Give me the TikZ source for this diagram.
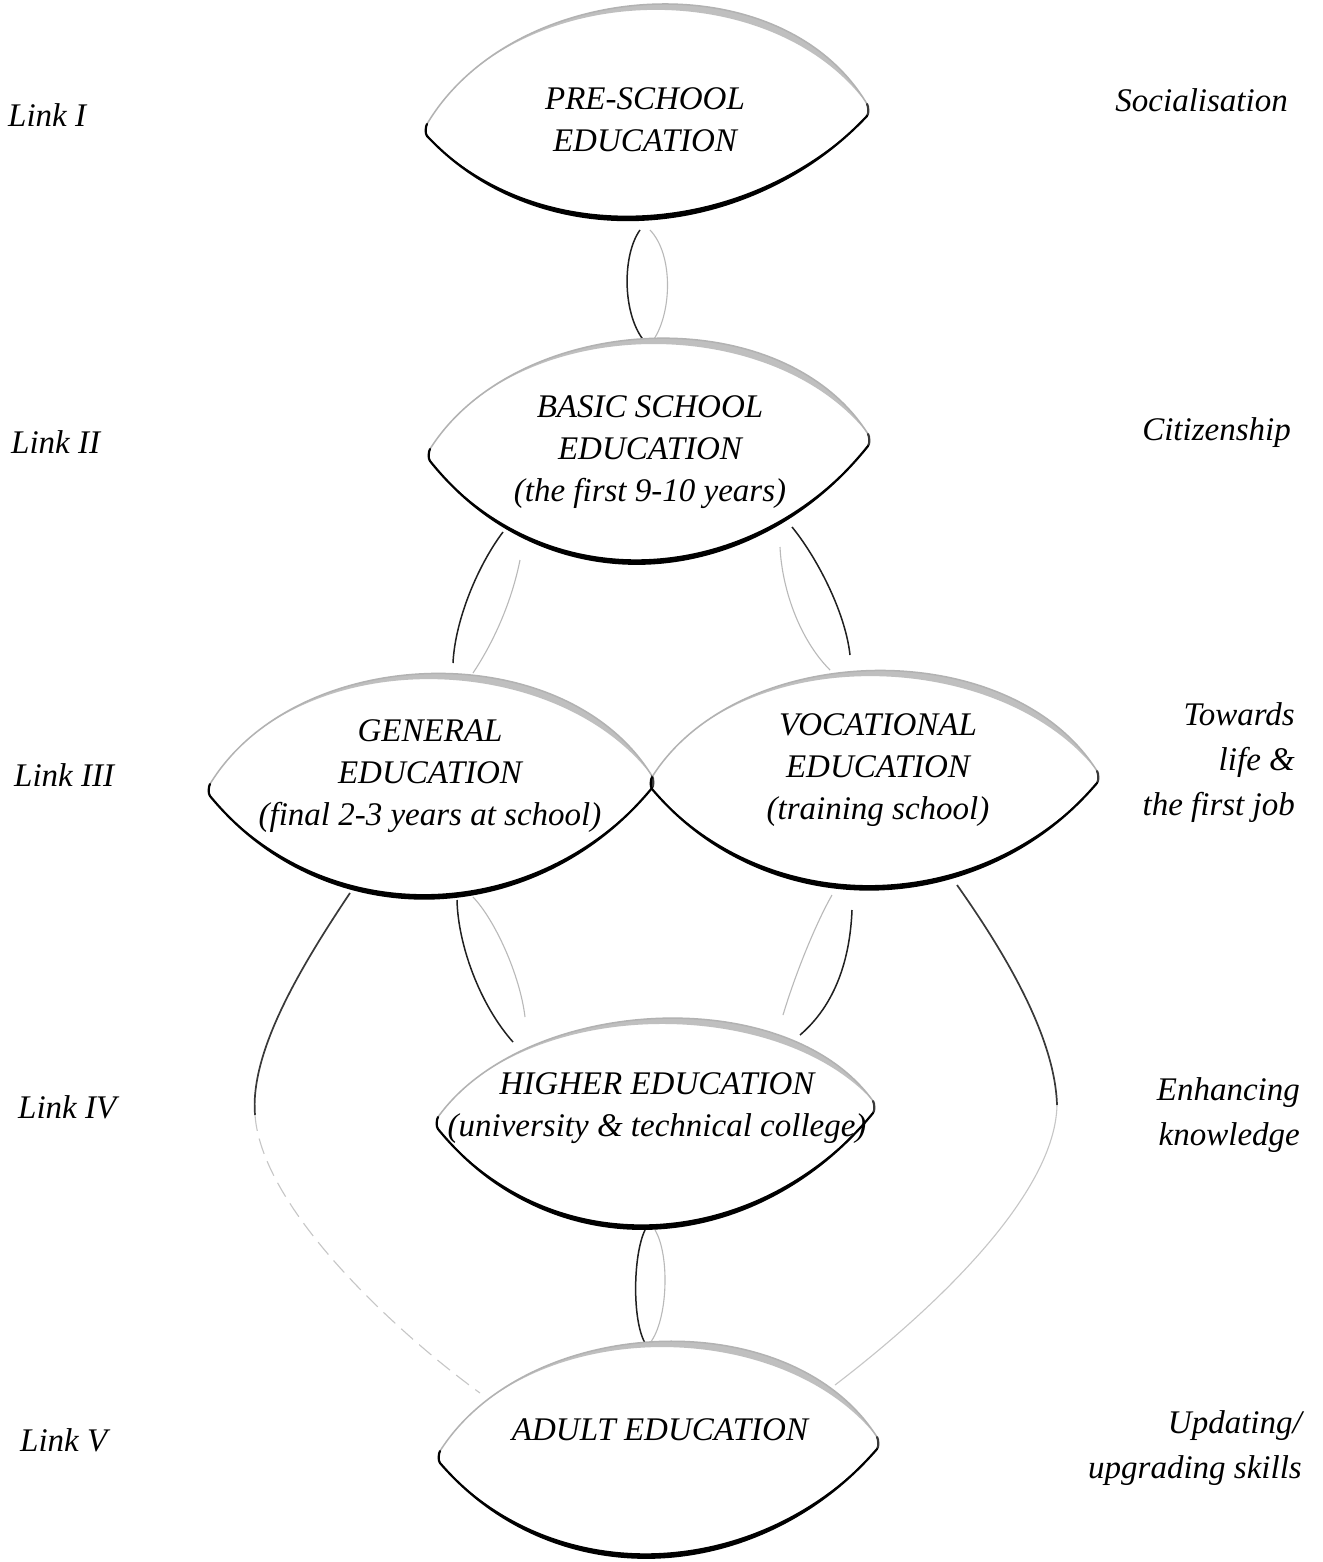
\documentclass[tikz,border=0pt]{standalone}
\usepackage{fontspec}
\setmainfont{Liberation Serif}
\newcommand\lensparams[6]{%
  \pgfmathsetmacro\lmy{(#2+#4)/2}%
  \pgfmathsetmacro\lkt{(\lmy-#5)/0.75}%
  \pgfmathsetmacro\lkb{(#6-\lmy)/0.75}%
}
% tips are slightly blunted with tangent-matched small arcs
\newcommand\edulensfill[6]{%
  \lensparams{#1}{#2}{#3}{#4}{#5}{#6}%
  \fill[white] (#1+5,#2-6) .. controls (#1+92,#2-\lkt) and (#3-92,#4-\lkt) .. (#3-5,#4-6)
     .. controls (#3-3.5,#4-3.4) and (#3-3,#4+3.8) .. (#3-5,#4+6)
     .. controls (#3-122,#4+\lkb) and (#1+122,#2+\lkb) .. (#1+5,#2+6)
     .. controls (#1+3,#2+3.8) and (#1+3.5,#2-3.4) .. (#1+5,#2-6) -- cycle;
}
\newcommand\edulensline[6]{%
  \lensparams{#1}{#2}{#3}{#4}{#5}{#6}%
  \fill[lenstop] (#1+5,#2-6) .. controls (#1+92,#2-\lkt) and (#3-92,#4-\lkt) .. (#3-5,#4-6)
     .. controls (#3-102,#4-\lkt+14) and (#1+92,#2-\lkt+1) .. (#1+5,#2-6) -- cycle;
  \draw[lenstopline] (#1+5,#2-6) .. controls (#1+92,#2-\lkt) and (#3-92,#4-\lkt) .. (#3-5,#4-6);
  \draw[lensrighttip] (#3-5,#4-6) .. controls (#3-3.5,#4-3.4) and (#3-3,#4+3.8) .. (#3-5,#4+6);
  \fill[black] (#1+5,#2+6) .. controls (#1+122,#2+\lkb) and (#3-122,#4+\lkb) .. (#3-5,#4+6)
     .. controls (#3-122,#4+\lkb-6) and (#1+122,#2+\lkb-6) .. (#1+5,#2+6) -- cycle;
  \draw[lensbottom] (#1+5,#2-6) .. controls (#1+3.5,#2-3.4) and (#1+3,#2+3.8) .. (#1+5,#2+6)
     .. controls (#1+122,#2+\lkb) and (#3-122,#4+\lkb) .. (#3-5,#4+6);
}
\tikzset{
  lenstop/.style={fill=gray!50},
  lenstopline/.style={draw=gray!60, line width=1.5pt, line cap=round},
  lensrighttip/.style={draw=gray!45!black, line width=2.2pt, line cap=round},
  lensbottom/.style={draw=black, line width=2.2pt, line cap=round, line join=round},
  lbl/.style={font=\fontsize{33}{45}\selectfont\itshape, inner sep=0pt},
  lenstxt/.style={font=\fontsize{33}{42}\selectfont\itshape, align=center, inner sep=0pt},
  linkdark/.style={draw=gray!25!black, line width=1.5pt},
  linklight/.style={draw=gray!55, line width=1.1pt},
  bigdark/.style={draw=gray!45!black, line width=1.7pt},
  biglight/.style={draw=gray!45, line width=1.1pt, dash pattern=on 16pt off 8pt},
  bigdot/.style={draw=gray!45, line width=1.1pt},
}
\begin{document}
\begin{tikzpicture}[x=1pt,y=-1pt]
\useasboundingbox (0,0) rectangle (1322,1562);
\fill[white] (0,0) rectangle (1322,1562);

% ---- small links ----
% pre -> basic
\draw[linkdark]  (640,230) .. controls (622,255) and (622,315) .. (645,342);
\draw[linklight] (650,230) .. controls (674,255) and (672,315) .. (652,342);
% basic -> general
\draw[linkdark]  (503,532) .. controls (478,565) and (455,620) .. (453,663);
\draw[linklight] (520,560) .. controls (512,600) and (495,640) .. (473,673);
% basic -> vocational
\draw[linkdark]  (792,527) .. controls (815,555) and (845,610) .. (850,655);
\draw[linklight] (780,547) .. controls (782,590) and (800,640) .. (830,670);
% general -> higher
\draw[linkdark]  (457,900) .. controls (458,945) and (480,1005) .. (513,1042);
\draw[linklight] (473,897) .. controls (495,920) and (520,975) .. (525,1017);
% vocational -> higher
\draw[linklight] (832,895) .. controls (815,925) and (795,975) .. (783,1015);
\draw[linkdark]  (852,910) .. controls (850,960) and (835,1005) .. (800,1035);
% higher -> adult
\draw[linkdark]  (645,1230) .. controls (633,1255) and (632,1320) .. (645,1343);
\draw[linklight] (655,1230) .. controls (670,1255) and (668,1320) .. (650,1343);

% ---- big outer links ----
\coordinate (gl1) at (350,893);
\coordinate (gl2) at (255,1115);
\coordinate (gl3) at (480,1393);
\draw[bigdark] (gl1) .. controls (295,975) and (250,1055) .. (gl2);
\draw[biglight] (gl2) .. controls (262,1210) and (400,1335) .. (gl3);
\coordinate (vr1) at (957,885);
\coordinate (vr2) at (1057,1105);
\coordinate (vr3) at (835,1385);
\draw[bigdark] (vr1) .. controls (1010,960) and (1055,1040) .. (vr2);
\draw[bigdot] (vr2) .. controls (1055,1200) and (920,1320) .. (vr3);

% ---- lens fills ----
\edulensfill{422}{130}{872}{110}{6}{218}
\edulensfill{425}{455}{873}{440}{340}{562}
\edulensfill{205}{790}{657}{782}{675}{897}
\edulensfill{647}{783}{1102}{777}{672}{888}
\edulensfill{433}{1123}{878}{1107}{1020}{1227}
\edulensfill{435}{1457}{882}{1443}{1343}{1556}

% ---- lens outlines ----
\edulensline{422}{130}{872}{110}{6}{218}
\edulensline{425}{455}{873}{440}{340}{562}
\edulensline{205}{790}{657}{782}{675}{897}
\edulensline{647}{783}{1102}{777}{672}{888}
\edulensline{433}{1123}{878}{1107}{1020}{1227}
\edulensline{435}{1457}{882}{1443}{1343}{1556}

% ---- lens texts ----
\node[lenstxt] (pre) at (645,120) {PRE-SCHOOL\\EDUCATION};
\node[lenstxt] (basic) at (650,452) {BASIC SCHOOL\\EDUCATION\\(the first 9-10 years)};
\node[lenstxt] (gen) at (430,776) {GENERAL\\EDUCATION\\(final 2-3 years at school)};
\node[lenstxt] (voc) at (878,770) {VOCATIONAL\\EDUCATION\\(training school)};
\node[lenstxt] (higher) at (657,1108) {HIGHER EDUCATION\\(university \& technical college)};
\node[lenstxt] (adult) at (660,1430) {ADULT EDUCATION};

% ---- left labels ----
\node[lbl, anchor=west] (l1) at (8,115) {Link I};
\node[lbl, anchor=west] (l2) at (11,442) {Link II};
\node[lbl, anchor=west] (l3) at (14,775) {Link III};
\node[lbl, anchor=west] (l4) at (18,1107) {Link IV};
\node[lbl, anchor=west] (l5) at (20,1440) {Link V};

% ---- right labels ----
\node[lbl, anchor=east] (r1) at (1288,100) {Socialisation};
\node[lbl, anchor=east] (r2) at (1291,433) {Citizenship};
\node[lbl, anchor=east, align=right] (r3) at (1295,763) {Towards\\life \&\\the first job};
\node[lbl, anchor=east, align=right] (r4) at (1300,1115) {Enhancing\\knowledge};
\node[lbl, anchor=east, align=right] (r5) at (1302,1448) {Updating/\\upgrading skills};
\end{tikzpicture}
\end{document}
